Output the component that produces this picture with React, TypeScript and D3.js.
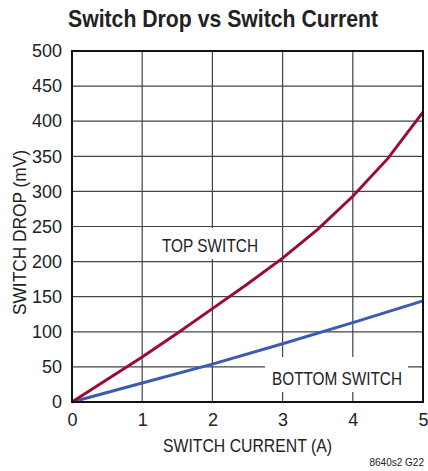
import React, { useEffect, useRef } from "react";
import * as d3 from "d3";

const currentA = [0, 0.5, 1, 1.5, 2, 2.5, 3, 3.5, 4, 4.5, 5];
const topSwitchMv = [0, 32, 64, 98, 133, 168, 205, 246, 293, 347, 413];
const bottomCurrentA = [0, 1, 2, 3, 4, 5];
const bottomSwitchMv = [0, 27, 54, 83, 113, 144];
const xTicks = [0, 1, 2, 3, 4, 5];
const yTicks = [0, 50, 100, 150, 200, 250, 300, 350, 400, 450, 500];

const FONT = "'Liberation Sans', Arial, sans-serif";
const INK = "#222";

const App = () => {
  const svgRef = useRef<SVGSVGElement>(null);

  useEffect(() => {
    const svg = d3.select(svgRef.current);
    svg.selectAll("*").remove();

    const width = 428;
    const height = 471;
    const margin = { top: 51, right: 5, bottom: 69, left: 72 };

    const x = d3.scaleLinear().domain([0, 5]).range([margin.left, width - margin.right]);
    const y = d3.scaleLinear().domain([0, 500]).range([height - margin.bottom, margin.top]);

    svg.append("rect").attr("width", width).attr("height", height).attr("fill", "#fff");

    // condensed look: squeeze Liberation Sans into the measured width
    const label = (tx: number, ty: number, txt: string, len: number, size = 18) =>
      svg.append("text").attr("x", tx).attr("y", ty).attr("font-family", FONT).attr("font-size", size)
        .attr("fill", INK).attr("textLength", len).attr("lengthAdjust", "spacingAndGlyphs").text(txt);

    // grid
    const grid = svg.append("g").attr("stroke", "#444").attr("stroke-width", 1.2);
    xTicks.slice(1, -1).forEach((t) => {
      grid.append("line").attr("x1", x(t)).attr("x2", x(t)).attr("y1", y(0)).attr("y2", y(500));
    });
    yTicks.slice(1, -1).forEach((t) => {
      grid.append("line").attr("x1", x(0)).attr("x2", x(5)).attr("y1", y(t)).attr("y2", y(t));
    });

    // label boxes hide the grid
    svg.append("rect").attr("x", 152).attr("y", 228).attr("width", 126).attr("height", 31).attr("fill", "#fff");
    svg.append("rect").attr("x", 265).attr("y", 357).attr("width", 143).attr("height", 35).attr("fill", "#fff");

    label(162, 252, "TOP SWITCH", 96);
    label(272, 385, "BOTTOM SWITCH", 130);

    const line = d3.line<number>().x((d, i) => x(currentA[i])).y((d) => y(d));
    const lineB = d3.line<number>().x((d, i) => x(bottomCurrentA[i])).y((d) => y(d));

    svg.append("path").datum(bottomSwitchMv).attr("d", lineB).attr("fill", "none")
      .attr("stroke", "#3a5ab4").attr("stroke-width", 3);
    svg.append("path").datum(topSwitchMv).attr("d", line).attr("fill", "none")
      .attr("stroke", "#9a0c35").attr("stroke-width", 3);

    // frame
    svg.append("rect").attr("x", x(0)).attr("y", y(500)).attr("width", x(5) - x(0)).attr("height", y(0) - y(500))
      .attr("fill", "none").attr("stroke", "#111").attr("stroke-width", 2);

    // axes
    const xAxis = svg.append("g").attr("transform", `translate(0,${y(0)})`)
      .call(d3.axisBottom(x).tickValues(xTicks).tickFormat(d3.format("d")).tickSize(0).tickPadding(11));
    xAxis.select(".domain").remove();
    xAxis.selectAll("text").attr("font-family", FONT).attr("font-size", 18).attr("fill", INK);

    const yAxis = svg.append("g").attr("transform", `translate(${x(0)},0)`)
      .call(d3.axisLeft(y).tickValues(yTicks).tickFormat(d3.format("d")).tickSize(0).tickPadding(10));
    yAxis.select(".domain").remove();
    yAxis.selectAll("text").attr("font-family", FONT).attr("font-size", 18).attr("fill", INK);

    label(163, 452, "SWITCH CURRENT (A)", 169);

    svg.append("text").attr("transform", `translate(26,${232.5}) rotate(-90)`).attr("text-anchor", "middle")
      .attr("font-family", FONT).attr("font-size", 18).attr("fill", INK)
      .attr("textLength", 165).attr("lengthAdjust", "spacingAndGlyphs").text("SWITCH DROP (mV)");

    svg.append("text").attr("x", 68).attr("y", 27)
      .attr("font-family", FONT).attr("font-weight", "bold").attr("font-size", 24).attr("fill", INK)
      .attr("textLength", 310).attr("lengthAdjust", "spacingAndGlyphs")
      .text("Switch Drop vs Switch Current");

    svg.append("text").attr("x", 424).attr("y", 466).attr("text-anchor", "end")
      .attr("font-family", FONT).attr("font-size", 10).attr("fill", INK).text("8640s2 G22");
  }, []);

  return (
    <div style={{ position: "absolute", left: 0, top: 0 }}>
      <svg ref={svgRef} width={428} height={471}></svg>
    </div>
  );
};

export default App;
